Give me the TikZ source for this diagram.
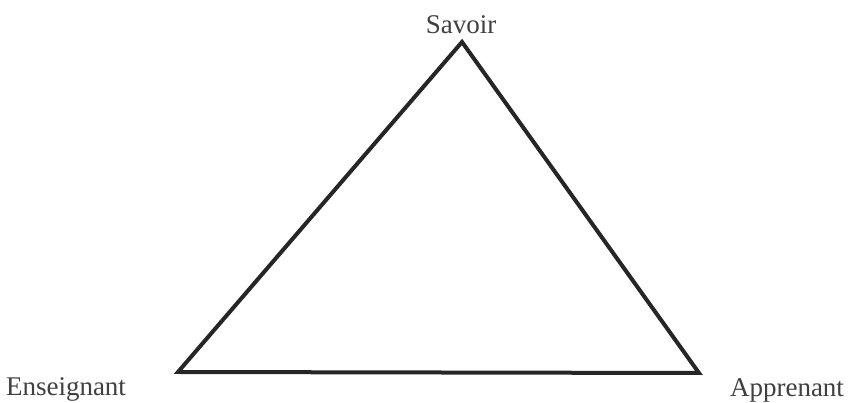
\documentclass[tikz,border=0pt]{standalone}
\usepackage{fontspec}
\setmainfont{Liberation Serif}
\begin{document}
\begin{tikzpicture}[x=1pt,y=1pt,
  lbl/.style={inner sep=0pt,anchor=base,font=\fontsize{27}{30}\selectfont,text=black!75},
  edge/.style={line width=4pt,draw=black!85,line join=miter}]
\useasboundingbox[fill=white] (0,0) rectangle (849,403);
\coordinate (S) at (462,361);
\coordinate (E) at (178,31);
\coordinate (A) at (699,30);
\draw[edge] (S) -- (E) -- (A) -- cycle;
\node[lbl] (ls) at (461,369) {Savoir};
\node[lbl] (le) at (66,7) {Enseignant};
\node[lbl] (la) at (787,6) {Apprenant};
\end{tikzpicture}
\end{document}
